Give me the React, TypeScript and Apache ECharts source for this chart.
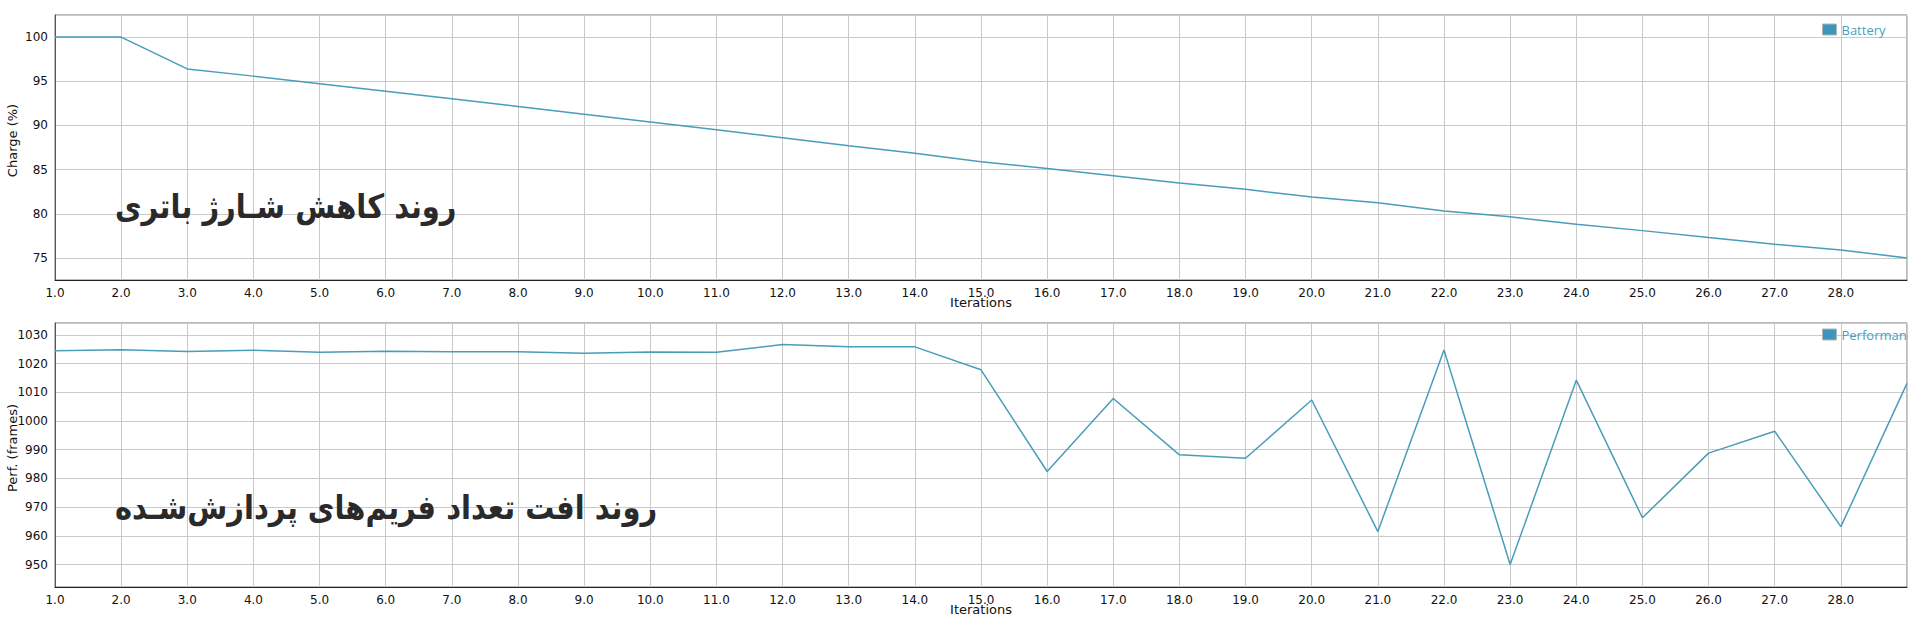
import React, { useEffect, useRef } from "react";
import * as echarts from "echarts";

const iterations = [1, 2, 3, 4, 5, 6, 7, 8, 9, 10, 11, 12, 13, 14, 15, 16, 17, 18, 19, 20, 21, 22, 23, 24, 25, 26, 27, 28, 29];
const battery = [100, 100, 96.4, 95.58, 94.71, 93.88, 93.03, 92.15, 91.27, 90.4, 89.5, 88.6, 87.7, 86.85, 85.9, 85.13, 84.3, 83.48, 82.76, 81.9, 81.25, 80.31, 79.65, 78.8, 78.09, 77.3, 76.54, 75.9, 75.0];
const performance = [1024.4, 1024.8, 1024.2, 1024.6, 1023.9, 1024.3, 1024.1, 1024.1, 1023.6, 1024.0, 1023.9, 1026.6, 1025.8, 1025.8, 1017.8, 982.4, 1007.8, 988.2, 987.0, 1007.3, 961.5, 1024.7, 950.0, 1014.2, 966.3, 988.8, 996.4, 963.2, 1013.1];

const batteryTitle = "روند کاهش شـارژ باتری";
const perfTitle = "روند افت تعداد فریم‌های پردازش‌شـده";
const xName = "Iterations";
const batteryAxisName = "Charge (%)";
const perfAxisName = "Perf. (frames)";
const batteryLegend = "Battery";
const perfLegend = "Performance";

const LINE = "#4a9db8";
const GRID = "#cacaca";
const FONT = "DejaVu Sans";

export default function App() {
  const ref = useRef<HTMLDivElement>(null);
  useEffect(() => {
    if (!ref.current) return;
    const chart = echarts.init(ref.current, null, { renderer: "svg" });
    const xAxisBase = (gridIndex: number, margin: number) => ({
      type: "value",
      gridIndex,
      min: 1,
      max: 29,
      interval: 1,
      name: xName,
      nameLocation: "middle",
      nameGap: 16,
      nameMoveOverlap: false,
      nameTextStyle: { fontFamily: FONT, fontSize: 13, color: "#111" },
      axisLine: { show: true, lineStyle: { color: "#222", width: 1 } },
      axisTick: { show: false },
      axisLabel: {
        margin,
        fontFamily: FONT,
        fontSize: 12,
        color: "#111",
        showMaxLabel: false,
        formatter: (v: number) => v.toFixed(1),
      },
      splitLine: { show: true, lineStyle: { color: GRID, width: 1 } },
    });
    const yAxisBase = (gridIndex: number, min: number, max: number, splitNumber: number, name: string) => ({
      type: "value",
      gridIndex,
      min,
      max,
      splitNumber,
      name,
      nameLocation: "middle",
      nameGap: 36,
      nameMoveOverlap: false,
      nameTextStyle: { fontFamily: FONT, fontSize: 13, color: "#111", padding: [0, 0, 0, 14] },
      axisLine: { show: true, lineStyle: { color: "#555", width: 1 } },
      axisTick: { show: false },
      axisLabel: {
        margin: 7,
        fontFamily: FONT,
        fontSize: 12,
        color: "#111",
        showMinLabel: false,
        showMaxLabel: false,
        formatter: (v: number) => String(Math.round(v)),
      },
      splitLine: { show: true, lineStyle: { color: GRID, width: 1 } },
    });
    const legendBase = (name: string, top: number) => ({
      data: [name],
      left: 1822,
      top,
      icon: "rect",
      itemWidth: 14,
      itemHeight: 11,
      itemGap: 6,
      padding: 0,
      itemStyle: { color: "#3d96b9", borderColor: "#a8b8c0", borderWidth: 1 },
      textStyle: { fontFamily: "Open Sans", fontSize: 13, color: "#4a9fc0" },
    });
    const titleText = (text: string, y: number) => ({
      type: "text",
      x: 115,
      y,
      z: 50,
      scaleY: 1.15,
      style: {
        text,
        fontFamily: FONT,
        fontWeight: "bold",
        fontSize: 29,
        fill: "#2a2a2a",
        textAlign: "left",
        textVerticalAlign: "middle",
      },
    });
    chart.setOption({
      animation: false,
      backgroundColor: "#fff",
      grid: [
        { left: 55, top: 15, width: 1852, height: 265, show: true, borderColor: "#777", borderWidth: 1, containLabel: false, outerBoundsMode: "none" },
        { left: 55, top: 323, width: 1852, height: 264, show: true, borderColor: "#777", borderWidth: 1, containLabel: false, outerBoundsMode: "none" },
      ],
      xAxis: [xAxisBase(0, 7), xAxisBase(1, 7)],
      yAxis: [
        yAxisBase(0, 72.5, 102.5, 6, batteryAxisName),
        yAxisBase(1, 942.2, 1034.1, 9, perfAxisName),
      ],
      legend: [legendBase(batteryLegend, 23), legendBase(perfLegend, 328)],
      series: [
        {
          name: batteryLegend,
          type: "line",
          xAxisIndex: 0,
          yAxisIndex: 0,
          showSymbol: false,
          color: LINE,
          lineStyle: { color: LINE, width: 1.5 },
          data: iterations.map((x, i) => [x, battery[i]]),
        },
        {
          name: perfLegend,
          type: "line",
          xAxisIndex: 1,
          yAxisIndex: 1,
          showSymbol: false,
          color: LINE,
          lineStyle: { color: LINE, width: 1.5 },
          data: iterations.map((x, i) => [x, performance[i]]),
        },
      ],
      graphic: [
        titleText(batteryTitle, 206),
        titleText(perfTitle, 507),
        {
          type: "rect",
          z: 100,
          shape: { x: 1908, y: 322, width: 12, height: 26 },
          style: { fill: "#fff" },
        },
      ],
    });
    return () => chart.dispose();
  }, []);
  return <div ref={ref} style={{ position: "fixed", left: 0, top: 0, width: 1920, height: 623 }} />;
}
